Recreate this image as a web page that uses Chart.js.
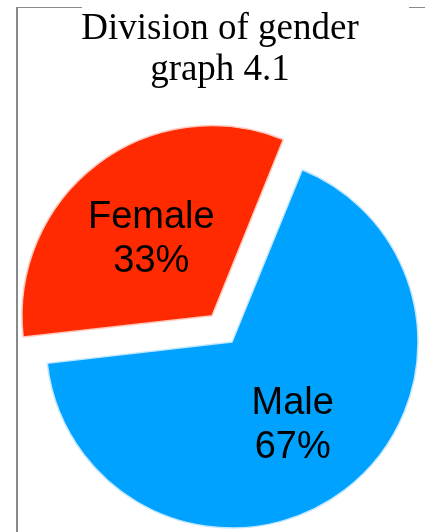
<!DOCTYPE html>
<html>
<head>
<meta charset="utf-8">
<script src="https://cdn.jsdelivr.net/npm/chart.js@4/dist/chart.umd.min.js"></script>
<style>
  html, body { margin: 0; padding: 0; background: #fff; overflow: hidden; }
  #wrap { position: relative; width: 425px; height: 532px; }
  canvas { position: absolute; left: 0; top: 0; }
  .frame { position: absolute; background: #8a8a8a; }
</style>
</head>
<body>
<div id="wrap">
  <canvas id="c" width="425" height="532"></canvas>
  <div class="frame" style="left:16px; top:7px; width:2px; height:525px;"></div>
  <div class="frame" style="left:16px; top:7px; width:66px; height:1px;"></div>
  <div class="frame" style="left:409px; top:7px; width:16px; height:1px;"></div>
</div>
<script>
const categories = ['Male', 'Female'];
const values = [67, 33];
const sliceColors = ['#00A2FF', '#FF2A00'];
const sliceBorders = ['#c4e7ff', '#ffc9bd'];
const sliceOffsets = [0, 132];
const titleLines = ['Division of gender', 'graph 4.1'];

const total = values.reduce((a, b) => a + b, 0);

const sliceLabels = {
  id: 'sliceLabels',
  afterDatasetsDraw(chart) {
    const ctx = chart.ctx;
    const meta = chart.getDatasetMeta(0);
    ctx.save();
    ctx.fillStyle = '#000';
    ctx.textAlign = 'center';
    ctx.textBaseline = 'alphabetic';
    ctx.font = '38px "Liberation Sans", Arial, sans-serif';
    meta.data.forEach((arc, i) => {
      const p = arc.getProps(['x', 'y', 'startAngle', 'endAngle', 'outerRadius'], true);
      const mid = (p.startAngle + p.endAngle) / 2;
      const shift = (arc.options.offset || 0) / 4;
      const d = shift + p.outerRadius * 0.54;
      const cx = p.x + Math.cos(mid) * d;
      const cy = p.y + Math.sin(mid) * d;
      const pct = Math.round(values[i] / total * 100) + '%';
      ctx.fillText(categories[i], cx, cy - 8);
      ctx.fillText(pct, cx, cy + 36);
    });
    ctx.restore();
  }
};

new Chart(document.getElementById('c'), {
  type: 'pie',
  data: {
    labels: categories,
    datasets: [{
      data: values,
      backgroundColor: sliceColors,
      borderColor: sliceBorders,
      borderWidth: 1.5,
      offset: sliceOffsets,
      hoverOffset: 0,
      clip: false
    }]
  },
  options: {
    responsive: false,
    animation: false,
    devicePixelRatio: 1,
    rotation: 22.2,
    radius: 186,
    layout: { padding: { left: 15, right: 0, top: 0, bottom: 0 } },
    events: [],
    scales: {
      y: {
        position: 'left',
        display: true,
        ticks: { display: false },
        grid: { display: false },
        border: { display: false },
        afterFit(scale) { scale.width = 24; }
      }
    },
    plugins: {
      legend: { display: false },
      tooltip: { enabled: false },
      title: {
        display: true,
        text: titleLines,
        color: '#000',
        font: { family: '"Liberation Serif", "Times New Roman", serif', size: 37, weight: 'normal', lineHeight: 1.108 },
        padding: { top: 9, bottom: 61 }
      }
    }
  },
  plugins: [sliceLabels]
});
</script>
</body>
</html>
